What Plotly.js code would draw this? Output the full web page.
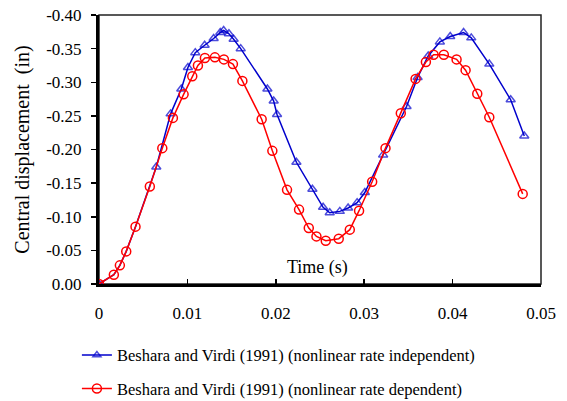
<!DOCTYPE html>
<html>
<head>
<meta charset="utf-8">
<script src="https://cdn.plot.ly/plotly-3.0.1.min.js"></script>
<style>html,body{margin:0;padding:0;background:#fff;}</style>
</head>
<body>
<div id="chart" style="width:567px;height:401px;"></div>
<script>
// Series 1: nonlinear rate independent (time s, displacement in)
const timeIndep = [0, 0.00168, 0.00236, 0.00308, 0.00413, 0.00575, 0.00648, 0.0081, 0.00931, 0.01006, 0.01089, 0.01195, 0.01297, 0.01372, 0.0141, 0.0147, 0.01523, 0.01603, 0.01905, 0.01976, 0.02014, 0.02233, 0.02414, 0.02535, 0.0261, 0.02724, 0.02818, 0.0292, 0.03007, 0.03214, 0.03479, 0.03604, 0.03724, 0.03856, 0.03973, 0.04124, 0.04211, 0.04415, 0.04657, 0.04811];
const dispIndep = [0, -0.0138, -0.0277, -0.0485, -0.0853, -0.145, -0.174, -0.253, -0.290, -0.322, -0.344, -0.355, -0.365, -0.374, -0.377, -0.372, -0.364, -0.350, -0.290, -0.272, -0.252, -0.181, -0.141, -0.114, -0.106, -0.108, -0.113, -0.121, -0.136, -0.192, -0.264, -0.307, -0.339, -0.360, -0.368, -0.374, -0.366, -0.327, -0.274, -0.220];

// Series 2: nonlinear rate dependent
const timeDep = [0, 0.00168, 0.00236, 0.00308, 0.00413, 0.00575, 0.00716, 0.00836, 0.00957, 0.01055, 0.01119, 0.01198, 0.01311, 0.01413, 0.01515, 0.01622, 0.0184, 0.01961, 0.02127, 0.02263, 0.02373, 0.0246, 0.02565, 0.02712, 0.02837, 0.02942, 0.0309, 0.03241, 0.03414, 0.03581, 0.03698, 0.03785, 0.03901, 0.04045, 0.04147, 0.04279, 0.04415, 0.04793];
const dispDep = [0, -0.0138, -0.0277, -0.0485, -0.0853, -0.145, -0.202, -0.247, -0.282, -0.309, -0.325, -0.336, -0.337, -0.334, -0.327, -0.302, -0.245, -0.198, -0.140, -0.1106, -0.0833, -0.0708, -0.0644, -0.0674, -0.0808, -0.109, -0.152, -0.202, -0.254, -0.305, -0.330, -0.341, -0.341, -0.334, -0.318, -0.283, -0.248, -0.134];

const xTickVals = [0, 0.01, 0.02, 0.03, 0.04, 0.05];
const xTickText = ["0", "0.01", "0.02", "0.03", "0.04", "0.05"];
const yTickVals = [0, -0.05, -0.10, -0.15, -0.20, -0.25, -0.30, -0.35, -0.40];
const yTickText = ["0.00", "-0.05", "-0.10", "-0.15", "-0.20", "-0.25", "-0.30", "-0.35", "-0.40"];

const seriesNames = [
  "Beshara and Virdi (1991) (nonlinear rate independent)",
  "Beshara and Virdi (1991) (nonlinear rate dependent)"
];

const font = "Liberation Serif, Times New Roman, serif";

// the first part of the rate-independent curve coincides with the other one; its markers are hidden there
const indepMarkerSize = timeIndep.map(t => (t > 0 && t < 0.006) ? 0 : 8);

const traces = [
  {
    x: timeIndep, y: dispIndep, name: seriesNames[0], type: "scatter", mode: "lines+markers",
    legendgroup: "a",
    line: {color: "#0000CC", width: 1.5},
    marker: {symbol: "triangle-up-open", size: indepMarkerSize, color: "#0000CC", line: {width: 1.5}}
  },
  {
    x: timeDep, y: dispDep, name: seriesNames[1], type: "scatter", mode: "lines+markers",
    legendgroup: "b",
    line: {color: "#FF0000", width: 1.5},
    marker: {symbol: "circle-open", size: 9, color: "#FF0000", line: {width: 1.5}}
  }
];

// trailing non-breaking spaces push the rotated title a little lower, as in the original
const yTitle = "Central displacement\u00a0 (in)" + "\u00a0".repeat(12);

const layout = {
  width: 567, height: 401,
  margin: {l: 99, r: 26, t: 15, b: 117, autoexpand: false},
  paper_bgcolor: "#fff", plot_bgcolor: "#fff",
  font: {family: font, size: 17, color: "#000"},
  showlegend: true,
  legend: {
    x: -0.05, xanchor: "left", y: -0.2, yanchor: "top",
    orientation: "v", traceorder: "grouped", tracegroupgap: 9,
    font: {family: font, size: 16.5, color: "#000"},
    bgcolor: "rgba(0,0,0,0)"
  },
  xaxis: {
    range: [0, 0.05], tickvals: xTickVals, ticktext: xTickText,
    showgrid: false, zeroline: false,
    showline: true, linecolor: "#000", linewidth: 3,
    ticks: "inside", ticklen: 5, tickwidth: 1.5, tickcolor: "#000",
    ticklabelstandoff: 12,
    tickfont: {family: font, size: 17, color: "#000"}
  },
  yaxis: {
    range: [0, -0.40], tickvals: yTickVals, ticktext: yTickText,
    showgrid: false, zeroline: false,
    showline: true, linecolor: "#000", linewidth: 3,
    ticks: "outside", ticklen: 5, tickwidth: 1.5, tickcolor: "#000",
    ticklabelstandoff: 6,
    tickfont: {family: font, size: 17, color: "#000"},
    title: {text: yTitle, font: {family: font, size: 20, color: "#000"}, standoff: 12}
  },
  shapes: [
    {type: "rect", xref: "paper", yref: "paper", x0: 0, x1: 1, y0: 0, y1: 1,
     line: {color: "#222", width: 1.5}, layer: "below"}
  ],
  annotations: [
    {text: "Time (s)", xref: "paper", yref: "paper", x: 0.495, y: 0.06,
     xanchor: "center", yanchor: "middle", showarrow: false,
     font: {family: font, size: 18, color: "#000"}}
  ]
};

Plotly.newPlot("chart", traces, layout, {displayModeBar: false, staticPlot: true});
</script>
</body>
</html>
